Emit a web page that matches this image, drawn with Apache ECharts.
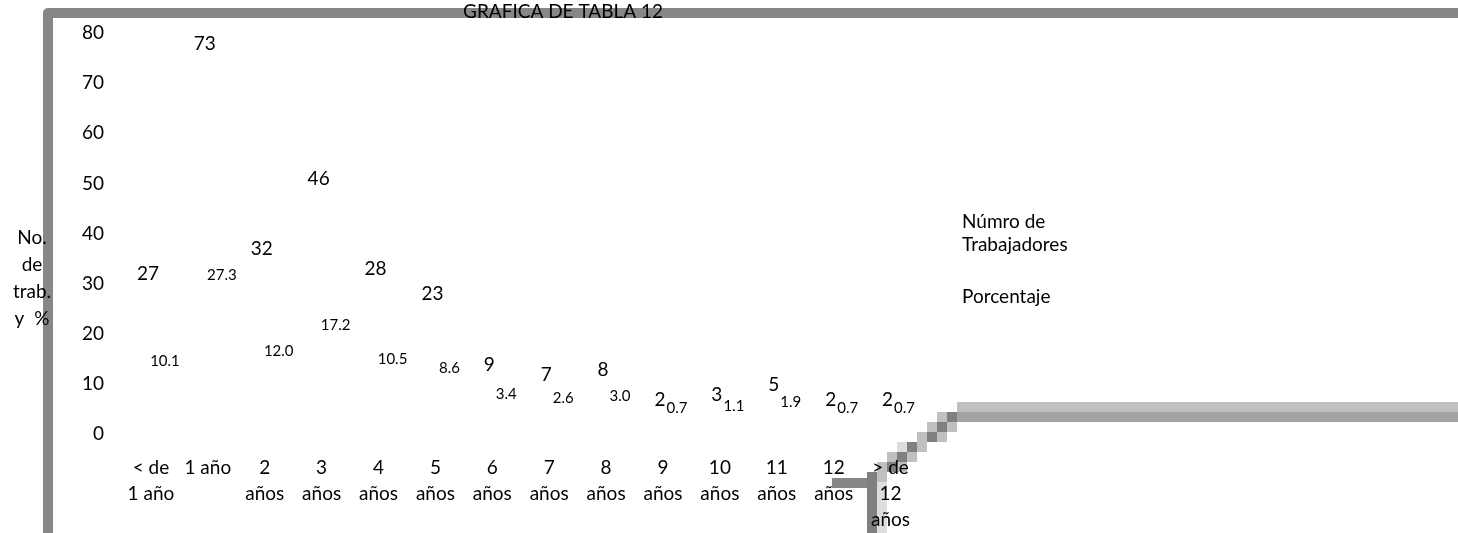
<!DOCTYPE html>
<html>
<head>
<meta charset="utf-8">
<title>GRAFICA DE TABLA 12</title>
<script src="https://cdn.jsdelivr.net/npm/echarts@6/dist/echarts.min.js"></script>
<style>
  html, body { margin: 0; padding: 0; background: #ffffff; }
  #chart { width: 1458px; height: 533px; }
</style>
</head>
<body>
<div id="chart"></div>
<script>
// Antigüedad de los trabajadores: número y porcentaje por grupo
const categories = [
  '< de\n1 año', '1 año', '2\naños', '3\naños', '4\naños', '5\naños', '6\naños',
  '7\naños', '8\naños', '9\naños', '10\naños', '11\naños', '12\naños', '> de\n12\naños'
];
const workers = [27, 73, 32, 46, 28, 23, 9, 7, 8, 2, 3, 5, 2, 2];
const percent = [10.1, 27.3, 12.0, 17.2, 10.5, 8.6, 3.4, 2.6, 3.0, 0.7, 1.1, 1.9, 0.7, 0.7];
const yTicks = [0, 10, 20, 30, 40, 50, 60, 70, 80];
const seriesNames = ['Númro de\nTrabajadores', 'Porcentaje'];

const FONT = 'Lato';
const frameGray = '#878787';

// Decorative frame and stepped connector drawn around the plot
function block(x, y, w, h, color) {
  return { type: 'rect', shape: { x: x, y: y, width: w, height: h }, style: { fill: color }, z: -10, silent: true };
}
const light = '#c0c0c0', dark = '#808080', pale = '#dddddd', mid = '#a3a3a3';
const decor = [
  {
    type: 'polyline', z: -10, silent: true,
    shape: { points: [[48, 540], [48, 13], [1470, 13]] },
    style: { stroke: frameGray, lineWidth: 10, lineJoin: 'round', fill: null }
  },
  block(957, 402, 501, 10, light),
  block(957, 412, 501, 10, mid),
  block(937, 412, 10, 10, light), block(947, 412, 10, 10, dark),
  block(927, 422, 10, 10, light), block(937, 422, 10, 10, dark), block(947, 422, 10, 10, light),
  block(917, 432, 10, 10, light), block(927, 432, 10, 10, dark), block(937, 432, 10, 10, light),
  block(897, 442, 10, 10, pale),  block(907, 442, 10, 10, dark), block(917, 442, 10, 10, light),
  block(887, 452, 10, 10, light), block(897, 452, 10, 10, dark), block(907, 452, 10, 10, light),
  block(877, 462, 10, 10, light), block(887, 462, 10, 10, dark), block(897, 462, 10, 10, light),
  block(867, 472, 10, 10, dark),  block(877, 472, 10, 10, light),
  block(867, 482, 10, 60, dark),  block(877, 482, 10, 60, pale),
  block(832, 478, 35, 10, frameGray)
];

const chart = echarts.init(document.getElementById('chart'));
chart.setOption({
  backgroundColor: '#ffffff',
  animation: false,
  textStyle: { fontFamily: FONT },
  title: {
    text: 'GRAFICA DE TABLA 12',
    left: 563, top: 2, padding: 0, textAlign: 'center',
    textStyle: { fontFamily: FONT, fontSize: 19, fontWeight: 'normal', color: '#000' }
  },
  legend: {
    orient: 'vertical', left: 953, top: 210, padding: 0,
    itemWidth: 4, itemHeight: 4, itemGap: 29,
    data: seriesNames,
    textStyle: { fontFamily: FONT, fontSize: 19, lineHeight: 23, color: '#000' }
  },
  grid: { left: 122.5, right: 539, top: 33, bottom: 98, containLabel: false },
  xAxis: {
    type: 'category',
    data: categories,
    axisLine: { show: false }, axisTick: { show: false },
    axisLabel: {
      interval: 0, margin: 21, color: '#000',
      fontFamily: FONT, fontSize: 19, lineHeight: 26
    }
  },
  yAxis: {
    type: 'value', min: yTicks[0], max: yTicks[yTicks.length - 1], interval: 10,
    // leading spacer line pushes the title block below the axis middle
    name: '{s|}\nNo.\nde\ntrab.\ny  %',
    nameLocation: 'middle', nameRotate: 0, nameGap: 90.5,
    nameTextStyle: {
      fontFamily: FONT, fontSize: 19, lineHeight: 27, align: 'center', color: '#000',
      rich: { s: { lineHeight: 90, fontSize: 1 } }
    },
    axisLine: { show: false }, axisTick: { show: false }, splitLine: { show: false },
    axisLabel: { margin: 18.5, color: '#000', fontFamily: FONT, fontSize: 19 }
  },
  graphic: { elements: decor },
  series: [
    {
      name: seriesNames[0], type: 'bar', data: workers,
      barWidth: 17, barGap: '0%',
      itemStyle: { color: 'rgba(0,0,0,0)' },
      label: {
        show: true, position: 'top', distance: 15, offset: [5.5, 0],
        fontFamily: FONT, fontSize: 19, color: '#000'
      }
    },
    {
      name: seriesNames[1], type: 'bar', data: percent,
      barWidth: 17, barGap: '0%',
      itemStyle: { color: 'rgba(0,0,0,0)' },
      label: {
        show: true, position: 'top', distance: 15, offset: [5.5, 0],
        fontFamily: FONT, fontSize: 15, color: '#000',
        formatter: p => p.value.toFixed(1)
      }
    }
  ]
});
</script>
</body>
</html>
